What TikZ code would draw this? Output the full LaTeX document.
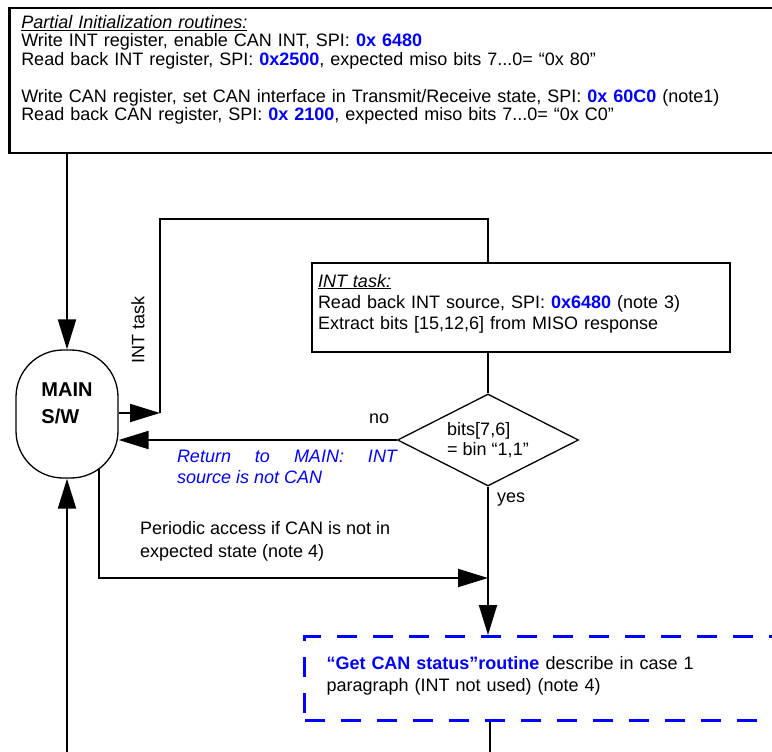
\documentclass[tikz,border=0pt]{standalone}
\usepackage{fontspec}
\setmainfont{Liberation Sans}
\usetikzlibrary{arrows.meta, shapes.geometric}

\definecolor{spiblue}{RGB}{0,0,255}
\newcommand{\spicode}[1]{\textcolor{spiblue}{\textbf{#1}}}

\tikzset{
  txt/.style={inner sep=0pt, align=left, font=\fontsize{18pt}{21pt}\selectfont},
  arr/.style={-{Triangle[length=30pt,width=18pt]}},
  initbox/.style={draw, line width=2.5pt, text width=760pt, inner xsep=12pt, inner ysep=7pt,
    align=left, font=\fontsize{18pt}{18.5pt}\selectfont},
  mainbox/.style={draw, line width=1.3pt, rounded corners=47pt, minimum width=102pt,
    minimum height=128pt, inner sep=0pt, align=left, font=\fontsize{20pt}{27pt}\selectfont\bfseries},
  taskbox/.style={draw, line width=2pt, text width=406pt, inner xsep=6pt, inner ysep=11pt,
    align=left, font=\fontsize{18pt}{21pt}\selectfont},
  decbox/.style={diamond, draw, line width=1.3pt, inner sep=0pt, aspect=1.97,
    minimum width=181pt, minimum height=92pt, align=left, font=\fontsize{18pt}{20pt}\selectfont},
  canbox/.style={draw=spiblue, line width=3pt, dash pattern=on 20pt off 16pt, text width=480pt,
    inner xsep=22pt, minimum height=84pt, align=left, font=\fontsize{18pt}{22pt}\selectfont},
}

\begin{document}
\begin{tikzpicture}[x=1pt, y=-1pt, line width=2pt]

\useasboundingbox (0,0) rectangle (772,752);
\fill[white] (0,0) rectangle (772,752);

\node[initbox, anchor=north west] (init) at (8,7) {\underline{\textit{Partial Initialization routines:}}\\
Write INT register, enable CAN INT, SPI: \spicode{0x 6480}\\
Read back INT register, SPI: \spicode{0x2500}, expected miso bits 7...0= “0x 80”\\[18.5pt]
Write CAN register, set CAN interface in Transmit/Receive state, SPI: \spicode{0x 60C0} (note1)\\
Read back CAN register, SPI: \spicode{0x 2100}, expected miso bits 7...0= “0x C0”\rule[-25pt]{0pt}{0pt}};

\node[mainbox] (mainsw) at (67,414) {MAIN\\S/W\rule[-22pt]{0pt}{0pt}};

\node[taskbox, anchor=north west] (inttask) at (311,262) {\underline{\textit{INT task:}}\\
Read back INT source, SPI: \spicode{0x6480} (note 3)\\
Extract bits [15,12,6] from MISO response\rule[-12pt]{0pt}{0pt}};

\node[decbox] (bitsdec) at (488,440) {bits[7,6]\\= bin “1,1”};

\node[canbox, anchor=north west] (getcan) at (303,635) {\spicode{“Get CAN status”routine} describe in case 1\\
paragraph (INT not used) (note 4)\rule[-9pt]{0pt}{0pt}};

\node[txt, rotate=90] (intlbl) at (138,330) {INT task};
\node[txt, anchor=base west] (nolbl) at (368,423) {no};
\node[txt, anchor=base west] (yeslbl) at (496,502) {yes};
\node[txt, anchor=north west, text width=220pt, align=justify, text=spiblue,
  font=\fontsize{18pt}{21pt}\selectfont\itshape] (retlbl) at (176,449)
  {Return to MAIN: INT\linebreak source is not CAN};
\node[txt, anchor=north west, font=\fontsize{18pt}{23pt}\selectfont] (perlbl) at (139,520)
  {Periodic access if CAN is not in\\expected state (note 4)};

\coordinate (looplow) at (160,413);
\coordinate (looptl) at (160,219);
\coordinate (looptr) at (488,219);
\coordinate (perstart) at (99,468.5);
\coordinate (perjoin) at (488,578);
\coordinate (mainin) at (67,752);
\coordinate (canout) at (490,752);

\draw[arr] (init.south -| mainsw) -- (mainsw.north);
\draw[arr] (mainsw.east |- looplow) -- (looplow);
\draw (looplow) -- (looptl) -- (looptr) -- (looptr |- inttask.north);
\draw (looptr |- inttask.south) -- (bitsdec.north);
\draw[arr] (bitsdec.west) -- (mainsw.east |- bitsdec.west);
\draw[arr] (bitsdec.south) -- (bitsdec.south |- getcan.north);
\draw[arr] (perstart) -- (perstart |- perjoin) -- (perjoin);
\draw (getcan.south -| canout) -- (canout);
\draw[arr] (mainin) -- (mainsw.south);

\end{tikzpicture}
\end{document}
